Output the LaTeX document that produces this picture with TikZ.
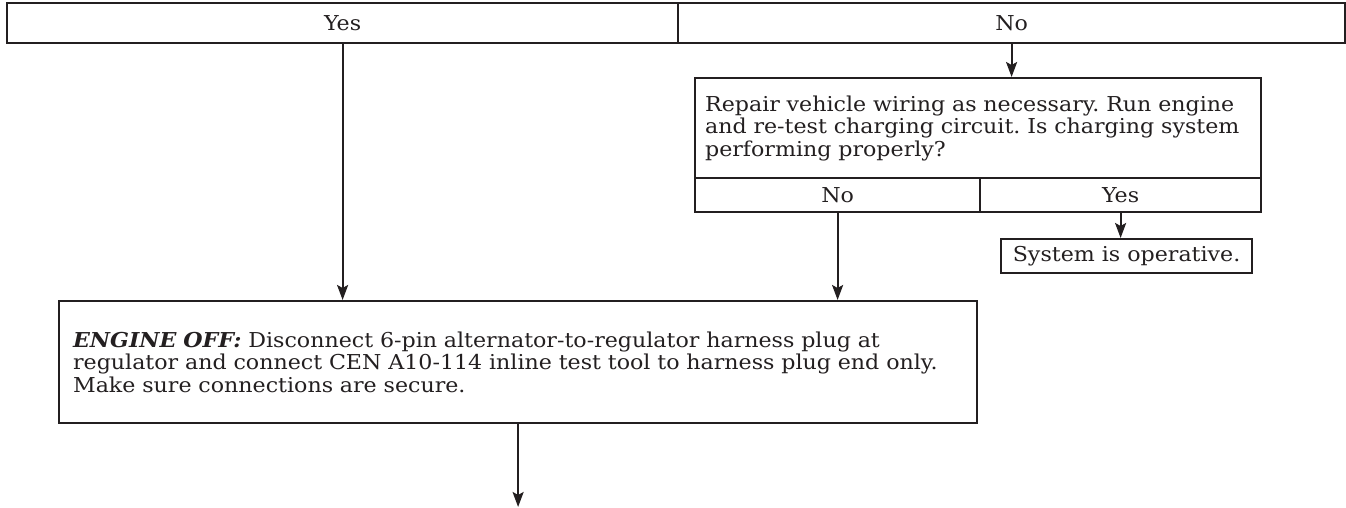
\documentclass[tikz,border=0pt]{standalone}
\usepackage{fontspec}
\setmainfont{DejaVu Serif}[FakeStretch=1.08]
\usetikzlibrary{arrows.meta}
\definecolor{ink}{HTML}{231F20}
\frenchspacing
\tikzset{
  box/.style={draw=ink, line width=2.2pt, inner sep=0pt, outer sep=1.1pt,
    anchor=north west, text=ink,
    font=\fontsize{20.5pt}{22.5pt}\selectfont},
  textbox/.style={box, align=left},
  arr/.style={draw=ink, line width=2.2pt,
    -{Stealth[length=15pt, width=11pt, inset=3pt]}},
}
\begin{document}
\begin{tikzpicture}[x=1pt, y=-1pt]
  \useasboundingbox (0,0) rectangle (1346,507);

  % answer row of the previous question
  \node[box, minimum width=671pt, minimum height=40pt] (yes) at (6,2) {Yes};
  \node[box, minimum width=667pt, minimum height=40pt] (no) at (677,2) {No};

  % repair and re-test question
  \node[textbox, minimum width=566pt, minimum height=100pt,
        text width=546pt, inner xsep=10pt] (dec) at (694,77)
    {Repair vehicle wiring as necessary. Run engine\\
     and re-test charging circuit. Is charging system\\
     performing properly?};
  \node[box, minimum width=285pt, minimum height=34pt] (decno) at (694,177) {No};
  \node[box, minimum width=281pt, minimum height=34pt] (decyes) at (979,177) {Yes};

  \node[box, minimum width=251pt, minimum height=34pt] (sys) at (1000,238)
    {System is operative.};

  % harness test step
  \node[textbox, minimum width=918pt, minimum height=122pt,
        text width=890pt, inner xsep=14pt] (big) at (58,300)
    {\textbf{\textit{ENGINE OFF:}} Disconnect 6-pin alternator-to-regulator harness plug at\\
     regulator and connect CEN A10-114 inline test tool to harness plug end only.\\
     Make sure connections are secure.};

  \coordinate (next) at (big.south |- 0,507);

  % connectors
  \draw[arr] (yes.south) -- (yes.south |- big.north);
  \draw[arr] (no.south) -- (no.south |- dec.north);
  \draw[arr] (decno.south) -- (decno.south |- big.north);
  \draw[arr] (decyes.south) -- (decyes.south |- sys.north);
  \draw[arr] (big.south) -- (next);
\end{tikzpicture}
\end{document}
